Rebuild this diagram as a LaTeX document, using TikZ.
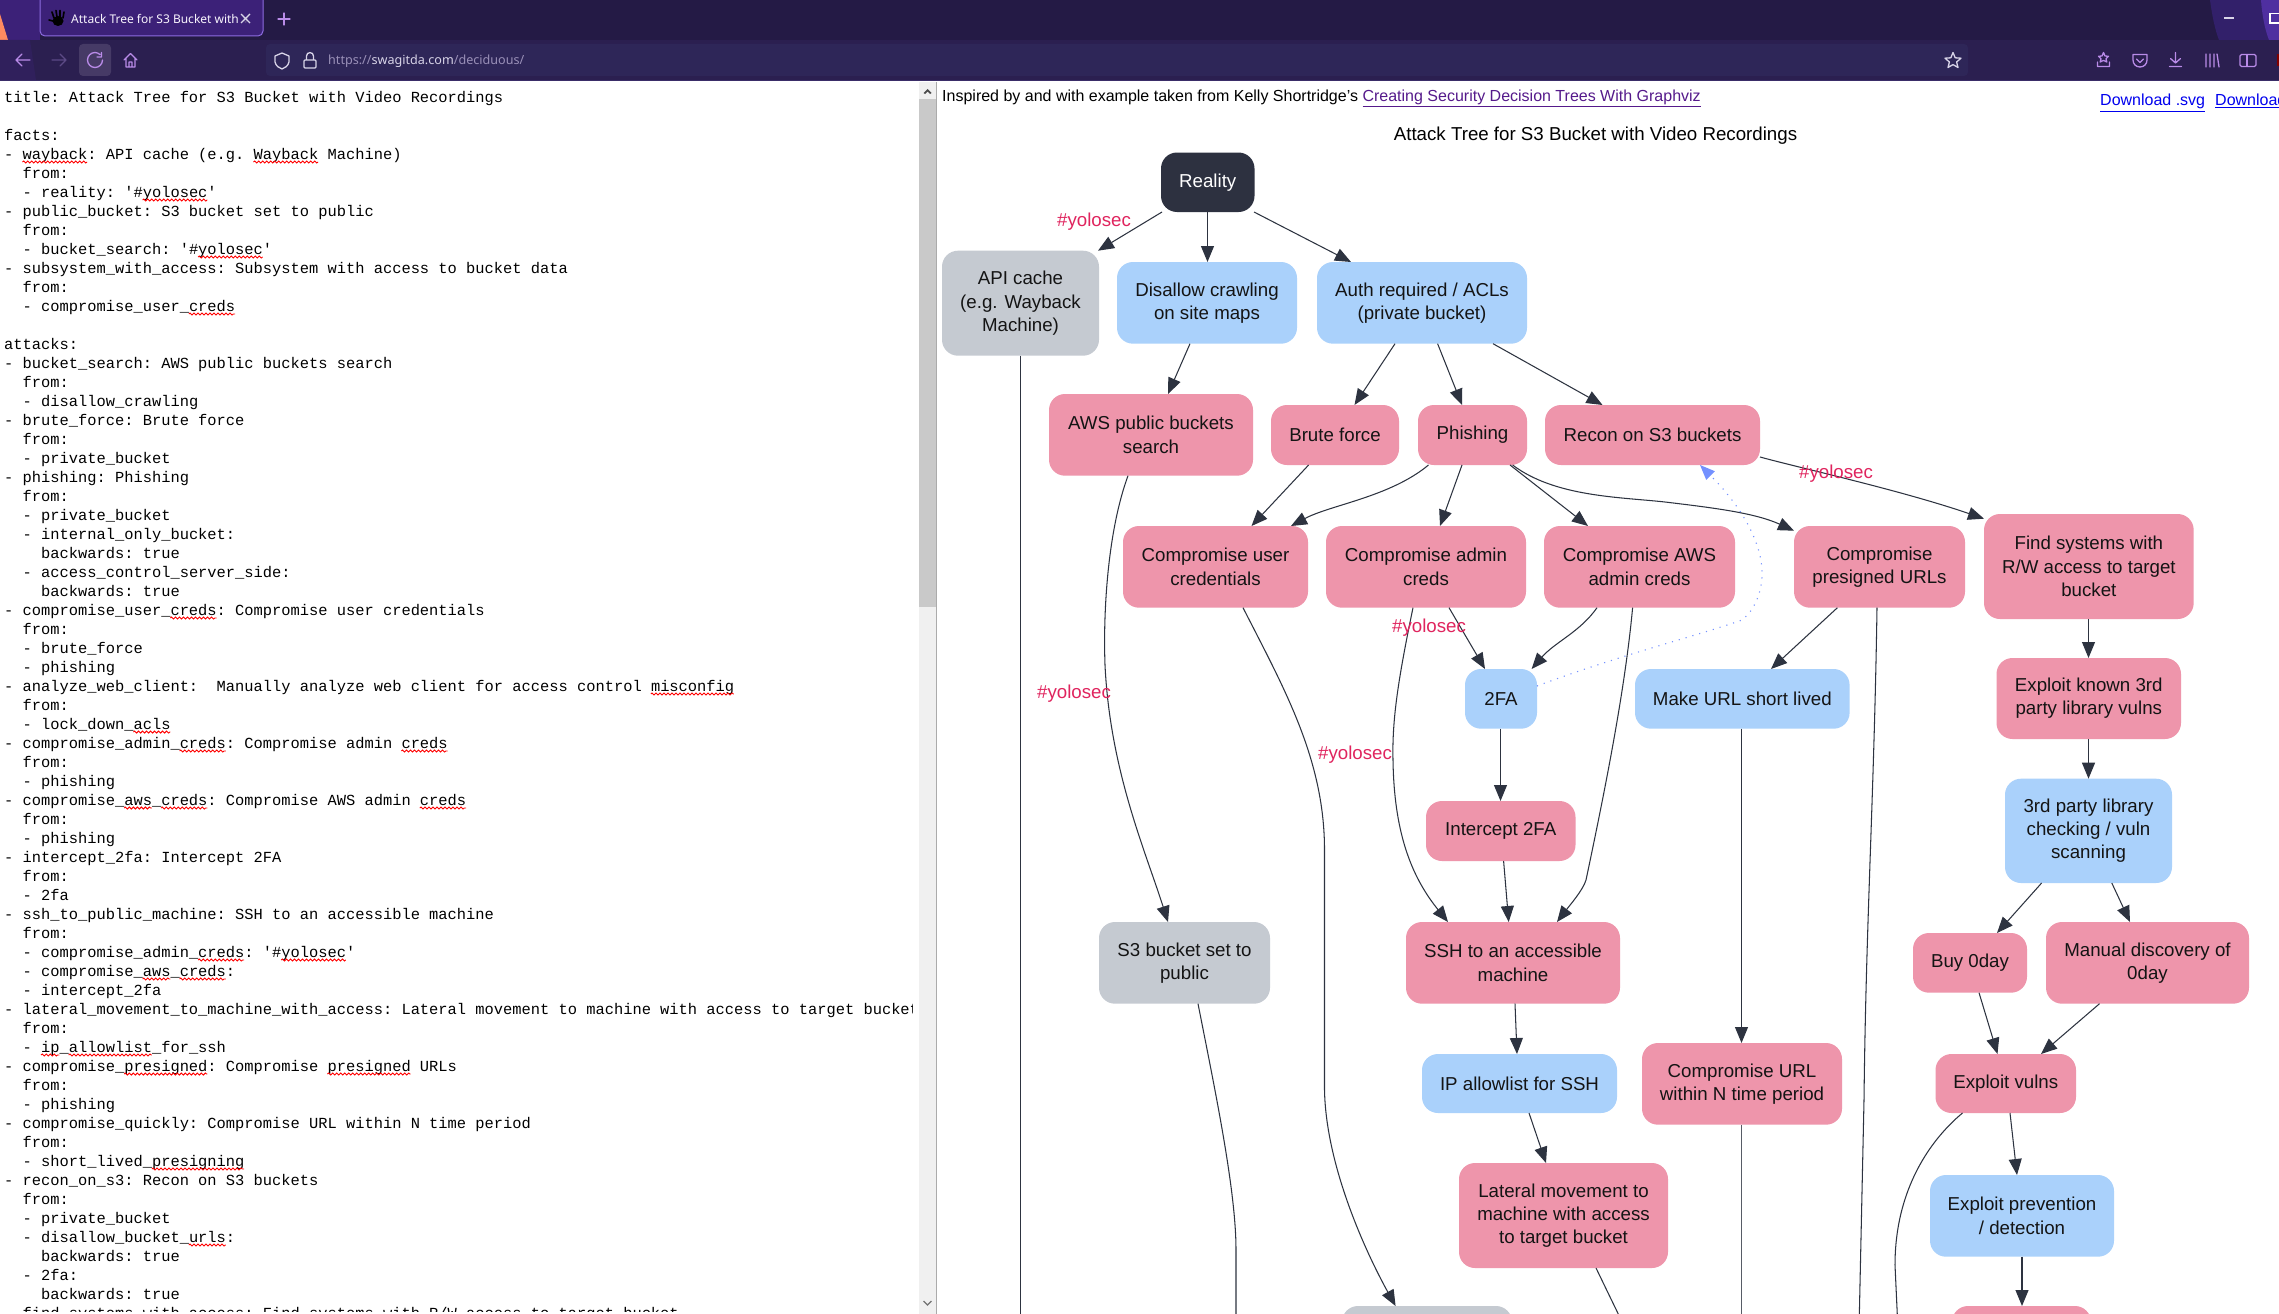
\documentclass[tikz,border=0pt]{standalone}
\usepackage{fontspec}
\usetikzlibrary{arrows.meta,decorations.pathmorphing}
\setmainfont{Liberation Sans}
\newfontfamily\codefont{Liberation Mono}
\newfontfamily\uifont{Noto Sans}
\definecolor{pinkn}{HTML}{EE95AB}
\definecolor{bluen}{HTML}{AAD1FB}
\definecolor{grayn}{HTML}{C5CAD1}
\definecolor{darkn}{HTML}{2D3140}
\definecolor{edgec}{HTML}{2D3340}
\definecolor{yolo}{HTML}{E0245E}
\definecolor{dotc}{HTML}{7390FF}
\definecolor{barA}{HTML}{241A45}
\definecolor{barB}{HTML}{2B1F50}
\definecolor{barline}{HTML}{3A2D68}
\definecolor{urlbar}{HTML}{2E2658}
\definecolor{iconc}{HTML}{B98BE8}
\definecolor{linkv}{HTML}{551A8B}
\definecolor{tabfill}{HTML}{3C2178}
\definecolor{tabline}{HTML}{8D6CE0}
\definecolor{cornerA}{HTML}{32206A}
\definecolor{cornerB}{HTML}{4F2FA0}
\definecolor{reloadbg}{HTML}{463A66}
\definecolor{dimicon}{HTML}{5C4A86}
\definecolor{paleicon}{HTML}{D8D4E8}
\definecolor{dimtext}{HTML}{9A90B8}
\definecolor{orangew}{HTML}{FF8A60}
\definecolor{linkb}{HTML}{0000EE}
\tikzset{
  x=1pt,y=-1pt,
  box/.style={rounded corners=16pt,inner sep=0pt,outer sep=0pt,align=center,
    font=\fontsize{18.7}{23.3}\selectfont,text=black!92},
  pinkbox/.style={box,fill=pinkn},
  bluebox/.style={box,fill=bluen},
  graybox/.style={box,fill=grayn},
  darkbox/.style={box,fill=darkn,text=white},
  edge/.style={draw=edgec,line width=1.05pt,-{Triangle[length=16pt,width=13pt,fill=edgec]}},
  plainedge/.style={draw=edgec,line width=1.05pt},
  dotedge/.style={draw=dotc,line width=1.1pt,dash pattern=on 1.1pt off 6pt,-{Triangle[length=15pt,width=12pt,fill=dotc]}},
  yololabel/.style={text=yolo,font=\fontsize{18.7}{23}\selectfont,inner sep=0pt},
  codeline/.style={anchor=base west,inner sep=0pt,font=\fontsize{15.4}{19}\codefont\frenchspacing,text=black},
  squig/.style={draw=red,line width=0.9pt,decorate,decoration={snake,segment length=4pt,amplitude=1pt}},
  icon/.style={draw=iconc,line width=1.3pt,line cap=round,line join=round},
  uitext/.style={anchor=base west,inner sep=0pt,font=\fontsize{12.6}{15}\uifont},
  tabtext/.style={anchor=base west,inner sep=0pt,font=\fontsize{12}{15}\uifont},
  toptext/.style={anchor=base west,inner sep=0pt,font=\fontsize{16}{19}\selectfont}
}
\newcommand\rbox[7]{\node[#2,minimum width={(#5-#3)*1pt},minimum height={(#6-#4)*1pt}] (#1) at ({(#3+#5)/2},{(#4+#6)/2}) {#7};}
\newcommand\cl[3]{\node[codeline] (cl#1) at ({4+#2*9.24},{102.7+#1*19}) {#3};}
\newcommand\sq[3]{\draw[squig] ({4+#2*9.24},{105+#1*19}) -- ({4+(#2+#3)*9.24},{105+#1*19});}
\begin{document}
\begin{tikzpicture}
\clip (0,0) rectangle (2279,1314);
\fill[white] (0,0) rectangle (2279,1314);
% ---- browser chrome
\fill[barA] (0,0) rectangle (2279,40);
\fill[barB] (0,40) rectangle (2279,80);
\fill[barline] (0,80) rectangle (2279,81.5);
\fill[tabfill] (0,0) rectangle (40,40);
\fill[orangew] (0,14) -- (8,40) -- (0,40) -- cycle;
\fill[barB!70!tabfill] (0,40) -- (30,40) -- (36,80) -- (0,80) -- cycle;
\fill[cornerA] (2210,0) .. controls (2212,15) and (2215,30) .. (2219,40) -- (2279,40) -- (2279,0) -- cycle;
\fill[cornerB] (2261,0) .. controls (2262,15) and (2265,30) .. (2269,40) -- (2279,40) -- (2279,0) -- cycle;
\fill[urlbar,rounded corners=4pt] (266,44) rectangle (1968,76);
\fill[reloadbg,rounded corners=4pt] (79,44) rectangle (111,76);
\filldraw[fill=tabfill,draw=tabline,line width=1pt,rounded corners=5pt] (40,-8) rectangle (263,36);
% tab
\fill[black] (58,21) ellipse (5.5 and 5);
\draw[black,line width=1.6pt,line cap=round] (54,18) -- (52,12) (57,17) -- (56,10.5) (60,17) -- (60,10.5) (63,18) -- (64,12) (53,21) -- (49,20);
\node[tabtext,text=white!90!iconc] (tabtitle) at (71,24) {Attack Tree for S3 Bucket with \textcolor{dimicon}{V}};
\draw[paleicon,line width=1.2pt] (241,14) -- (250,23) (250,14) -- (241,23);
\draw[icon] (284,13) -- (284,25) (278,19) -- (290,19);
% toolbar icons
\draw[icon] (30,60) -- (16,60) (22,54) -- (16,60) -- (22,66);
\draw[icon,draw=dimicon] (52,60) -- (66,60) (60,54) -- (66,60) -- (60,66);
\draw[icon] (100,54.5) .. controls (98.5,53.3) and (96.8,52.5) .. (95,52.5) .. controls (90.9,52.5) and (87.5,55.9) .. (87.5,60) .. controls (87.5,64.1) and (90.9,67.5) .. (95,67.5) .. controls (99.1,67.5) and (102.5,64.1) .. (102.5,60) (101.5,52.5) -- (101.5,57) -- (97,57);
\draw[icon] (124,60) -- (130.5,53.5) -- (137,60) (126,58) -- (126,67) -- (135,67) -- (135,58) (129,67) -- (129,62) -- (132,62) -- (132,67);
\draw[paleicon,line width=1.3pt,line join=round] (275,56) -- (282,53) -- (289,56) -- (289,62) .. controls (288,66) and (285,68) .. (282,69) .. controls (279,68) and (276,66) .. (275,62) -- cycle;
\draw[paleicon,line width=1.3pt,rounded corners=1pt] (304,60) rectangle (316,68);
\draw[paleicon,line width=1.3pt] (306.5,60) -- (306.5,56) .. controls (306.5,51.5) and (313.5,51.5) .. (313.5,56) -- (313.5,60);
\node[uitext,text=dimtext] (urltext) at (328,65) {https://\textcolor{paleicon}{swagitda.com}/deciduous/};
\draw[paleicon,line width=1.3pt,line join=round] (1953,52.5) -- (1955.2,57.8) -- (1961,58.2) -- (1956.6,62) -- (1958,67.5) -- (1953,64.6) -- (1948,67.5) -- (1949.4,62) -- (1945,58.2) -- (1950.8,57.8) -- cycle;
\draw[icon] (2103.5,52.5) -- (2105,56) -- (2108.5,56.3) -- (2106,58.8) -- (2106.8,62) -- (2103.5,60.4) -- (2100.2,62) -- (2101,58.8) -- (2098.5,56.3) -- (2102,56) -- cycle (2097.5,62) -- (2097.5,66.5) -- (2109.5,66.5) -- (2109.5,62);
\draw[icon] (2133,54.5) -- (2147,54.5) -- (2147,60) .. controls (2147,64) and (2144,67) .. (2140,67) .. controls (2136,67) and (2133,64) .. (2133,60) -- cycle (2136.5,59) -- (2140,62.5) -- (2143.5,59);
\draw[icon] (2175.5,52.5) -- (2175.5,63) (2170.5,58.5) -- (2175.5,63) -- (2180.5,58.5) (2169.5,66.5) -- (2181.5,66.5);
\draw[icon] (2206,54) -- (2206,67) (2210,54) -- (2210,67) (2214,54) -- (2214,67) (2217,54) -- (2219,67);
\draw[icon,rounded corners=1.5pt] (2240,54.5) rectangle (2256,66.5);
\draw[icon] (2247,54.5) -- (2247,66.5);
\fill[red!50!black] (2277,54) rectangle (2279,66);
\draw[paleicon,line width=1.1pt] (2224,18) -- (2234,18);
\draw[white,line width=1.1pt] (2270,13.5) rectangle (2285,23);
% ---- left pane
\fill[black!6] (919,82) rectangle (936,1314);
\fill[black!21] (919,99) rectangle (936,606.7);
\draw[black!33,line width=1pt] (936.5,82) -- (936.5,1314);
\fill[black!70] (927.5,89) -- (923.5,93) -- (925,94) -- (927.5,91.5) -- (930,94) -- (931.5,93) -- cycle;
\draw[black!55,line width=1.2pt] (923.5,1301) -- (927.5,1305) -- (931.5,1301);
\begin{scope}
\clip (0,82) rectangle (912,1311);
\cl{0}{0}{title: Attack Tree for S3 Bucket with Video Recordings}
\cl{2}{0}{facts:}
\cl{3}{0}{- wayback: API cache (e.g. Wayback Machine)}
\cl{4}{2}{from:}
\cl{5}{2}{- reality: '\#yolosec'}
\cl{6}{0}{- public\_bucket: S3 bucket set to public}
\cl{7}{2}{from:}
\cl{8}{2}{- bucket\_search: '\#yolosec'}
\cl{9}{0}{- subsystem\_with\_access: Subsystem with access to bucket data}
\cl{10}{2}{from:}
\cl{11}{2}{- compromise\_user\_creds}
\cl{13}{0}{attacks:}
\cl{14}{0}{- bucket\_search: AWS public buckets search}
\cl{15}{2}{from:}
\cl{16}{2}{- disallow\_crawling}
\cl{17}{0}{- brute\_force: Brute force}
\cl{18}{2}{from:}
\cl{19}{2}{- private\_bucket}
\cl{20}{0}{- phishing: Phishing}
\cl{21}{2}{from:}
\cl{22}{2}{- private\_bucket}
\cl{23}{2}{- internal\_only\_bucket:}
\cl{24}{4}{backwards: true}
\cl{25}{2}{- access\_control\_server\_side:}
\cl{26}{4}{backwards: true}
\cl{27}{0}{- compromise\_user\_creds: Compromise user credentials}
\cl{28}{2}{from:}
\cl{29}{2}{- brute\_force}
\cl{30}{2}{- phishing}
\cl{31}{0}{- analyze\_web\_client:~~Manually analyze web client for access control misconfig}
\cl{32}{2}{from:}
\cl{33}{2}{- lock\_down\_acls}
\cl{34}{0}{- compromise\_admin\_creds: Compromise admin creds}
\cl{35}{2}{from:}
\cl{36}{2}{- phishing}
\cl{37}{0}{- compromise\_aws\_creds: Compromise AWS admin creds}
\cl{38}{2}{from:}
\cl{39}{2}{- phishing}
\cl{40}{0}{- intercept\_2fa: Intercept 2FA}
\cl{41}{2}{from:}
\cl{42}{2}{- 2fa}
\cl{43}{0}{- ssh\_to\_public\_machine: SSH to an accessible machine}
\cl{44}{2}{from:}
\cl{45}{2}{- compromise\_admin\_creds: '\#yolosec'}
\cl{46}{2}{- compromise\_aws\_creds:}
\cl{47}{2}{- intercept\_2fa}
\cl{48}{0}{- lateral\_movement\_to\_machine\_with\_access: Lateral movement to machine with access to target bucket}
\cl{49}{2}{from:}
\cl{50}{2}{- ip\_allowlist\_for\_ssh}
\cl{51}{0}{- compromise\_presigned: Compromise presigned URLs}
\cl{52}{2}{from:}
\cl{53}{2}{- phishing}
\cl{54}{0}{- compromise\_quickly: Compromise URL within N time period}
\cl{55}{2}{from:}
\cl{56}{2}{- short\_lived\_presigning}
\cl{57}{0}{- recon\_on\_s3: Recon on S3 buckets}
\cl{58}{2}{from:}
\cl{59}{2}{- private\_bucket}
\cl{60}{2}{- disallow\_bucket\_urls:}
\cl{61}{4}{backwards: true}
\cl{62}{2}{- 2fa:}
\cl{63}{4}{backwards: true}
\cl{64}{0}{- find\_systems\_with\_access: Find systems with R/W access to target bucket}
\end{scope}
\sq{3}{2}{7}\sq{3}{27}{7}\sq{5}{15}{7}\sq{8}{21}{7}\sq{11}{20}{5}
\sq{27}{18}{5}\sq{31}{70}{9}\sq{33}{14}{4}\sq{34}{19}{5}\sq{34}{43}{5}
\sq{37}{13}{3}\sq{37}{17}{5}\sq{37}{45}{5}\sq{45}{21}{5}\sq{45}{30}{7}
\sq{46}{15}{3}\sq{46}{19}{5}\sq{50}{4}{2}\sq{50}{7}{9}\sq{51}{13}{9}
\sq{51}{35}{9}\sq{56}{16}{10}\sq{60}{20}{4}
% ---- top of the right pane
\node[toptext] (inspired) at (942,101) {Inspired by and with example taken from Kelly Shortridge's \textcolor{linkv}{\underline{Creating Security Decision Trees With Graphviz}}};
\node[toptext,text=linkb] (dlsvg) at (2100,106) {\underline{Download .svg}};
\node[toptext,text=linkb] (dlother) at (2215,106) {\underline{Download}};
\node[inner sep=0pt,font=\fontsize{18.7}{23}\selectfont] (gtitle) at (1595.5,136) {Attack Tree for S3 Bucket with Video Recordings};
% ---- nodes
\rbox{reality}{darkbox}{1161}{152.5}{1254.5}{212}{Reality}
\rbox{api}{graybox}{942}{250.7}{1099}{355.7}{API cache\\(e.g. Wayback\\Machine)}
\rbox{disallow}{bluebox}{1117}{262}{1297}{343.7}{Disallow crawling\\on site maps}
\rbox{auth}{bluebox}{1317}{262}{1527}{343.7}{Auth required / ACLs\\(private bucket)}
\rbox{awspub}{pinkbox}{1049}{394}{1253}{475.7}{AWS public buckets\\search}
\rbox{brute}{pinkbox}{1271}{405}{1399}{465}{Brute force}
\rbox{phishing}{pinkbox}{1418}{405}{1527}{465}{Phishing}
\rbox{recon}{pinkbox}{1545}{405}{1760}{465}{Recon on S3 buckets}
\rbox{cuser}{pinkbox}{1123}{526}{1308}{607.7}{Compromise user\\credentials}
\rbox{cadmin}{pinkbox}{1326}{526}{1526}{607.7}{Compromise admin\\creds}
\rbox{caws}{pinkbox}{1544}{526}{1735}{607.7}{Compromise AWS\\admin creds}
\rbox{cpres}{pinkbox}{1794}{526}{1965}{607.7}{Compromise\\presigned URLs}
\rbox{find}{pinkbox}{1984}{514}{2193.7}{619}{Find systems with\\R/W access to target\\bucket}
\rbox{twofa}{bluebox}{1465}{669}{1537}{728.7}{2FA}
\rbox{makeurl}{bluebox}{1635}{669}{1849.6}{728.7}{Make URL short lived}
\rbox{known}{pinkbox}{1996.5}{658}{2181}{739}{Exploit known 3rd\\party library vulns}
\rbox{third}{bluebox}{2005}{778.7}{2172}{883}{3rd party library\\checking / vuln\\scanning}
\rbox{inter}{pinkbox}{1426}{801}{1575.5}{861}{Intercept 2FA}
\rbox{ssh}{pinkbox}{1406}{922}{1620}{1003.7}{SSH to an accessible\\machine}
\rbox{sthree}{graybox}{1099}{922}{1270}{1003.7}{S3 bucket set to\\public}
\rbox{buy}{pinkbox}{1913}{933}{2027}{992.7}{Buy 0day}
\rbox{manual}{pinkbox}{2046}{922}{2249}{1003.7}{Manual discovery of\\0day}
\rbox{ipallow}{bluebox}{1422}{1054}{1617}{1113}{IP allowlist for SSH}
\rbox{cquick}{pinkbox}{1642}{1043}{1842}{1124.7}{Compromise URL\\within N time period}
\rbox{vulns}{pinkbox}{1935.5}{1054}{2076}{1113}{Exploit vulns}
\rbox{lateral}{pinkbox}{1459}{1163}{1668}{1268}{Lateral movement to\\machine with access\\to target bucket}
\rbox{prevent}{bluebox}{1930}{1175}{2114}{1256.7}{Exploit prevention\\/ detection}
\rbox{graybot}{graybox}{1342}{1306}{1512}{1390}{}
\rbox{pinkbot}{pinkbox}{1952}{1306}{2091}{1390}{}
% free ends of connectors that leave the picture
\coordinate (endapi) at (1020.5,1330);
\coordinate (endsthree) at (1236,1330);
\coordinate (endcquick) at (1741.5,1330);
\coordinate (endpres) at (1859,1330);
\coordinate (endlateral) at (1626,1330);
\coordinate (endvulns) at (1898,1330);
% ---- connectors
\draw[edge] (1162,0 |- reality.south) -- (1098,0 |- api.north);
\draw[edge] (1207.5,0 |- reality.south) -- (1207.5,0 |- disallow.north);
\draw[edge] (1254,0 |- reality.south) -- (1351,0 |- auth.north);
\draw[plainedge] (1020.5,0 |- api.south) -- (endapi);
\draw[edge] (1190,0 |- disallow.south) -- (1168,0 |- awspub.north);
\draw[edge] (1395,0 |- auth.south) -- (1354.5,0 |- brute.north);
\draw[edge] (1437.6,0 |- auth.south) -- (1462,0 |- phishing.north);
\draw[edge] (1493,0 |- auth.south) -- (1602.5,0 |- recon.north);
\draw[edge] (1128,0 |- awspub.south) .. controls (1108,530) and (1103,610) .. (1105,665) .. controls (1110,770) and (1145,850) .. (1168,0 |- sthree.north);
\draw[edge] (1308.6,0 |- brute.south) -- (1251.5,0 |- cuser.north);
\draw[edge] (1428.5,0 |- phishing.south) .. controls (1390,497) and (1330,505) .. (1291,0 |- cuser.north);
\draw[edge] (1462,0 |- phishing.south) -- (1440,0 |- cadmin.north);
\draw[edge] (1510,0 |- phishing.south) -- (1588,0 |- caws.north);
\draw[edge] (1512.6,0 |- phishing.south) .. controls (1555,497) and (1620,497) .. (1665,502) .. controls (1715,508) and (1755,513) .. ([yshift=-4.7pt]cpres.north west);
\draw[edge] ([yshift=8pt]recon.south east) .. controls (1800,468) and (1900,490) .. ([yshift=-4.7pt]find.north west);
\draw[dotedge] ([yshift=-17pt]twofa.north east) .. controls (1620,655) and (1700,635) .. (1742,620) .. controls (1755,610) and (1763,590) .. (1762,570) .. controls (1760,535) and (1735,500) .. (1700,0 |- recon.south);
\draw[edge] (1449,0 |- cadmin.south) -- (1485,0 |- twofa.north);
\draw[edge] (1597,0 |- caws.south) .. controls (1580,632) and (1555,642) .. (1531.6,0 |- twofa.north);
\draw[edge] (1413,0 |- cadmin.south) .. controls (1398,680) and (1392,720) .. (1393,760) .. controls (1394,830) and (1410,875) .. (1448,0 |- ssh.north);
\draw[edge] (1632.6,0 |- caws.south) .. controls (1625,690) and (1605,790) .. (1586,880) .. controls (1583,890) and (1570,905) .. (1557,0 |- ssh.north);
\draw[edge] (1500.5,0 |- twofa.south) -- (1500.5,0 |- inter.north);
\draw[edge] (1503.6,0 |- inter.south) -- (1508.7,0 |- ssh.north);
\draw[edge] (1837.4,0 |- cpres.south) -- (1771,0 |- makeurl.north);
\draw[plainedge] (1877,0 |- cpres.south) .. controls (1874,800) and (1866,920) .. (1864,1100) -- (endpres);
\draw[edge] (1741.5,0 |- makeurl.south) -- (1741.5,0 |- cquick.north);
\draw[plainedge,draw=edgec!80] (1741.5,0 |- cquick.south) -- (endcquick);
\draw[edge] (2088.5,0 |- find.south) -- (2088.5,0 |- known.north);
\draw[edge] (2088.5,0 |- known.south) -- (2088.5,0 |- third.north);
\draw[edge] (2041.6,0 |- third.south) -- (1997,0 |- buy.north);
\draw[edge] (2111.8,0 |- third.south) -- (2130,0 |- manual.north);
\draw[edge] (1979,0 |- buy.south) -- (1997.5,0 |- vulns.north);
\draw[edge] (2099.5,0 |- manual.south) -- (2041,0 |- vulns.north);
\draw[edge] (2010,0 |- vulns.south) -- (2017,0 |- prevent.north);
\draw[plainedge] (1962.5,0 |- vulns.south) .. controls (1930,1140) and (1895,1190) .. (1895,1265) -- (endvulns);
\draw[edge] (2022,0 |- prevent.south) -- (2022,0 |- pinkbot.north);
\draw[edge] (1515,0 |- ssh.south) -- (1517,0 |- ipallow.north);
\draw[edge] (1529,0 |- ipallow.south) -- (1546,0 |- lateral.north);
\draw[plainedge] (1596,0 |- lateral.south) -- (endlateral);
\draw[plainedge] (1198,0 |- sthree.south) .. controls (1215,1090) and (1236,1190) .. (1236,1250) -- (endsthree);
\draw[edge] (1243,0 |- cuser.south) .. controls (1285,690) and (1324.5,760) .. (1324.5,850) -- (1324.5,1090) .. controls (1326,1170) and (1370,1260) .. (1395.6,0 |- graybot.north);
% ---- labels
\node[yololabel] (yoloa) at (1094,222) {\#yolosec};
\node[yololabel] (yolob) at (1429,628) {\#yolosec};
\node[yololabel] (yoloc) at (1074,694) {\#yolosec};
\node[yololabel] (yolod) at (1355,755) {\#yolosec};
\node[yololabel] (yoloe) at (1836,473.5) {\#yolosec};
\end{tikzpicture}
\end{document}
